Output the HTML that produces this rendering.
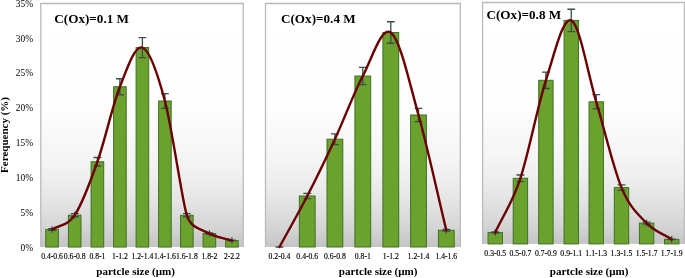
<!DOCTYPE html>
<html><head><meta charset="utf-8"><title>chart</title>
<style>
html,body{margin:0;padding:0;background:#fff;}
body{width:685px;height:278px;overflow:hidden;font-family:"Liberation Serif",serif;}
svg{display:block;will-change:transform;}
text{font-family:"Liberation Serif",serif;fill:#000;}
.b{font-weight:bold;}
</style></head><body>
<svg width="685" height="278" viewBox="0 0 685 278">
<defs>
<linearGradient id="g" x1="0" y1="0" x2="0" y2="1">
<stop offset="0" stop-color="#ffffff"/>
<stop offset="0.42" stop-color="#fefefe"/>
<stop offset="0.63" stop-color="#f5f5f5"/>
<stop offset="0.725" stop-color="#eeeeee"/>
<stop offset="0.82" stop-color="#e3e3e3"/>
<stop offset="0.93" stop-color="#d3d3d3"/>
<stop offset="1" stop-color="#c4c4c4"/>
</linearGradient>
</defs>
<rect width="685" height="278" fill="#fff"/>
<rect x="40.80" y="3.50" width="202.40" height="243.55" fill="url(#g)"/>
<path d="M40.80,247.05 V3.50 H243.20 V247.05" fill="none" stroke="#BABABA" stroke-width="1.3"/>
<rect x="45.75" y="229.45" width="12.60" height="17.60" fill="#6BA22D" stroke="#3F7125" stroke-width="1"/>
<rect x="68.40" y="215.15" width="12.60" height="31.90" fill="#6BA22D" stroke="#3F7125" stroke-width="1"/>
<rect x="91.10" y="161.75" width="12.60" height="85.30" fill="#6BA22D" stroke="#3F7125" stroke-width="1"/>
<rect x="113.60" y="86.75" width="12.60" height="160.30" fill="#6BA22D" stroke="#3F7125" stroke-width="1"/>
<rect x="136.10" y="47.55" width="12.60" height="199.50" fill="#6BA22D" stroke="#3F7125" stroke-width="1"/>
<rect x="158.60" y="101.00" width="12.60" height="146.05" fill="#6BA22D" stroke="#3F7125" stroke-width="1"/>
<rect x="180.55" y="215.30" width="12.60" height="31.75" fill="#6BA22D" stroke="#3F7125" stroke-width="1"/>
<rect x="203.10" y="233.55" width="12.60" height="13.50" fill="#6BA22D" stroke="#3F7125" stroke-width="1"/>
<rect x="225.65" y="240.55" width="12.60" height="6.50" fill="#6BA22D" stroke="#3F7125" stroke-width="1"/>
<path d="M52.05,226.15 V232.75 M48.15,228.57 H55.95 M48.15,230.33 H55.95" fill="none" stroke="#3A4F4A" stroke-width="1.3"/>
<path d="M74.70,211.85 V218.45 M70.80,213.56 H78.60 M70.80,216.75 H78.60" fill="none" stroke="#3A4F4A" stroke-width="1.3"/>
<path d="M97.40,157.49 V166.01 M93.50,157.49 H101.30 M93.50,166.01 H101.30" fill="none" stroke="#3A4F4A" stroke-width="1.3"/>
<path d="M119.90,78.73 V94.77 M116.00,78.73 H123.80 M116.00,94.77 H123.80" fill="none" stroke="#3A4F4A" stroke-width="1.3"/>
<path d="M142.40,37.58 V57.53 M138.50,37.58 H146.30 M138.50,57.53 H146.30" fill="none" stroke="#3A4F4A" stroke-width="1.3"/>
<path d="M164.90,93.70 V108.30 M161.00,93.70 H168.80 M161.00,108.30 H168.80" fill="none" stroke="#3A4F4A" stroke-width="1.3"/>
<path d="M186.85,212.00 V218.60 M182.95,213.71 H190.75 M182.95,216.89 H190.75" fill="none" stroke="#3A4F4A" stroke-width="1.3"/>
<path d="M209.40,230.25 V236.85 M205.50,232.88 H213.30 M205.50,234.23 H213.30" fill="none" stroke="#3A4F4A" stroke-width="1.3"/>
<path d="M231.95,237.25 V243.85 M228.05,240.23 H235.85 M228.05,240.88 H235.85" fill="none" stroke="#3A4F4A" stroke-width="1.3"/>
<path d="M52.05,229.45 C59.60,224.68 67.25,226.28 74.70,215.15 C82.15,204.02 89.87,183.15 97.40,161.75 C104.93,140.35 112.40,105.78 119.90,86.75 C127.40,67.72 134.90,45.18 142.40,47.55 C149.90,49.93 157.49,73.04 164.90,101.00 C172.31,128.96 182.23,201.55 186.85,215.30 C191.47,229.05 201.88,229.34 209.40,233.55 C216.92,237.76 224.43,238.22 231.95,240.55" fill="none" stroke="#6C0000" stroke-width="2.4" stroke-linecap="round" stroke-linejoin="round"/>
<text x="52.05" y="259.10" font-size="7.7" text-anchor="middle" stroke="#000" stroke-width="0.15">0.4-0.6</text>
<text x="74.70" y="259.10" font-size="7.7" text-anchor="middle" stroke="#000" stroke-width="0.15">0.6-0.8</text>
<text x="97.40" y="259.10" font-size="7.7" text-anchor="middle" stroke="#000" stroke-width="0.15">0.8-1</text>
<text x="119.90" y="259.10" font-size="7.7" text-anchor="middle" stroke="#000" stroke-width="0.15">1-1.2</text>
<text x="142.40" y="259.10" font-size="7.7" text-anchor="middle" stroke="#000" stroke-width="0.15">1.2-1.4</text>
<text x="164.90" y="259.10" font-size="7.7" text-anchor="middle" stroke="#000" stroke-width="0.15">1.4-1.6</text>
<text x="186.85" y="259.10" font-size="7.7" text-anchor="middle" stroke="#000" stroke-width="0.15">1.6-1.8</text>
<text x="209.40" y="259.10" font-size="7.7" text-anchor="middle" stroke="#000" stroke-width="0.15">1.8-2</text>
<text x="231.95" y="259.10" font-size="7.7" text-anchor="middle" stroke="#000" stroke-width="0.15">2-2.2</text>
<text class="b" x="54.30" y="23.40" font-size="13.15">C(Ox)=0.1 M</text>
<text class="b" x="96.25" y="274.80" font-size="11.05">partcle size (μm)</text>
<rect x="265.50" y="3.50" width="194.80" height="243.50" fill="url(#g)"/>
<path d="M265.50,247.00 V3.50 H460.30 V247.00" fill="none" stroke="#BABABA" stroke-width="1.3"/>
<rect x="299.35" y="196.00" width="15.80" height="51.00" fill="#6BA22D" stroke="#3F7125" stroke-width="1"/>
<rect x="327.00" y="139.20" width="15.80" height="107.80" fill="#6BA22D" stroke="#3F7125" stroke-width="1"/>
<rect x="354.90" y="76.00" width="15.80" height="171.00" fill="#6BA22D" stroke="#3F7125" stroke-width="1"/>
<rect x="382.90" y="32.50" width="15.80" height="214.50" fill="#6BA22D" stroke="#3F7125" stroke-width="1"/>
<rect x="410.60" y="115.00" width="15.80" height="132.00" fill="#6BA22D" stroke="#3F7125" stroke-width="1"/>
<rect x="438.40" y="230.30" width="15.80" height="16.70" fill="#6BA22D" stroke="#3F7125" stroke-width="1"/>
<path d="M279.44,245.40 V247.00 M275.54,247.00 H283.34 M275.54,247.00 H283.34" fill="none" stroke="#3A4F4A" stroke-width="1.3"/>
<path d="M307.25,192.70 V199.30 M303.35,193.45 H311.15 M303.35,198.55 H311.15" fill="none" stroke="#3A4F4A" stroke-width="1.3"/>
<path d="M334.90,133.81 V144.59 M331.00,133.81 H338.80 M331.00,144.59 H338.80" fill="none" stroke="#3A4F4A" stroke-width="1.3"/>
<path d="M362.80,67.45 V84.55 M358.90,67.45 H366.70 M358.90,84.55 H366.70" fill="none" stroke="#3A4F4A" stroke-width="1.3"/>
<path d="M390.80,21.77 V43.23 M386.90,21.77 H394.70 M386.90,43.23 H394.70" fill="none" stroke="#3A4F4A" stroke-width="1.3"/>
<path d="M418.50,108.40 V121.60 M414.60,108.40 H422.40 M414.60,121.60 H422.40" fill="none" stroke="#3A4F4A" stroke-width="1.3"/>
<path d="M446.30,227.00 V233.60 M442.40,229.47 H450.20 M442.40,231.14 H450.20" fill="none" stroke="#3A4F4A" stroke-width="1.3"/>
<path d="M279.44,247.00 C288.71,230.00 298.01,213.97 307.25,196.00 C316.49,178.03 325.64,159.20 334.90,139.20 C344.16,119.20 353.48,93.78 362.80,76.00 C372.12,58.22 381.52,26.00 390.80,32.50 C400.08,39.00 409.25,82.03 418.50,115.00 C427.75,147.97 437.03,191.87 446.30,230.30" fill="none" stroke="#6C0000" stroke-width="2.4" stroke-linecap="round" stroke-linejoin="round"/>
<text x="279.44" y="259.10" font-size="7.7" text-anchor="middle" stroke="#000" stroke-width="0.15">0.2-0.4</text>
<text x="307.25" y="259.10" font-size="7.7" text-anchor="middle" stroke="#000" stroke-width="0.15">0.4-0.6</text>
<text x="334.90" y="259.10" font-size="7.7" text-anchor="middle" stroke="#000" stroke-width="0.15">0.6-0.8</text>
<text x="362.80" y="259.10" font-size="7.7" text-anchor="middle" stroke="#000" stroke-width="0.15">0.8-1</text>
<text x="390.80" y="259.10" font-size="7.7" text-anchor="middle" stroke="#000" stroke-width="0.15">1-1.2</text>
<text x="418.50" y="259.10" font-size="7.7" text-anchor="middle" stroke="#000" stroke-width="0.15">1.2-1.4</text>
<text x="446.30" y="259.10" font-size="7.7" text-anchor="middle" stroke="#000" stroke-width="0.15">1.4-1.6</text>
<text class="b" x="281.00" y="23.40" font-size="13.15">C(Ox)=0.4 M</text>
<text class="b" x="338.75" y="274.80" font-size="11.05">partcle size (μm)</text>
<rect x="482.60" y="2.50" width="201.80" height="241.40" fill="url(#g)"/>
<path d="M482.60,243.90 V2.50 H684.40 V243.90" fill="none" stroke="#BABABA" stroke-width="1.3"/>
<rect x="488.05" y="232.50" width="14.40" height="11.40" fill="#6BA22D" stroke="#3F7125" stroke-width="1"/>
<rect x="513.20" y="178.30" width="14.40" height="65.60" fill="#6BA22D" stroke="#3F7125" stroke-width="1"/>
<rect x="538.70" y="80.30" width="14.40" height="163.60" fill="#6BA22D" stroke="#3F7125" stroke-width="1"/>
<rect x="564.05" y="20.40" width="14.40" height="223.50" fill="#6BA22D" stroke="#3F7125" stroke-width="1"/>
<rect x="589.05" y="101.80" width="14.40" height="142.10" fill="#6BA22D" stroke="#3F7125" stroke-width="1"/>
<rect x="614.30" y="187.60" width="14.40" height="56.30" fill="#6BA22D" stroke="#3F7125" stroke-width="1"/>
<rect x="639.40" y="223.10" width="14.40" height="20.80" fill="#6BA22D" stroke="#3F7125" stroke-width="1"/>
<rect x="664.50" y="239.40" width="14.40" height="4.50" fill="#6BA22D" stroke="#3F7125" stroke-width="1"/>
<path d="M495.25,229.20 V235.80 M491.35,231.93 H499.15 M491.35,233.07 H499.15" fill="none" stroke="#3A4F4A" stroke-width="1.3"/>
<path d="M520.40,175.00 V181.60 M516.50,175.02 H524.30 M516.50,181.58 H524.30" fill="none" stroke="#3A4F4A" stroke-width="1.3"/>
<path d="M545.90,72.12 V88.48 M542.00,72.12 H549.80 M542.00,88.48 H549.80" fill="none" stroke="#3A4F4A" stroke-width="1.3"/>
<path d="M571.25,9.23 V31.58 M567.35,9.23 H575.15 M567.35,31.58 H575.15" fill="none" stroke="#3A4F4A" stroke-width="1.3"/>
<path d="M596.25,94.70 V108.91 M592.35,94.70 H600.15 M592.35,108.91 H600.15" fill="none" stroke="#3A4F4A" stroke-width="1.3"/>
<path d="M621.50,184.30 V190.90 M617.60,184.79 H625.40 M617.60,190.42 H625.40" fill="none" stroke="#3A4F4A" stroke-width="1.3"/>
<path d="M646.60,219.80 V226.40 M642.70,222.06 H650.50 M642.70,224.14 H650.50" fill="none" stroke="#3A4F4A" stroke-width="1.3"/>
<path d="M671.70,236.10 V242.70 M667.80,239.18 H675.60 M667.80,239.62 H675.60" fill="none" stroke="#3A4F4A" stroke-width="1.3"/>
<path d="M495.25,232.50 C503.63,214.43 511.96,203.67 520.40,178.30 C528.84,152.93 537.42,106.62 545.90,80.30 C554.38,53.98 562.86,16.82 571.25,20.40 C579.64,23.98 587.88,73.93 596.25,101.80 C604.62,129.67 613.17,167.52 621.50,187.60 C629.83,207.68 638.23,214.47 646.60,223.10 C654.97,231.73 663.33,233.97 671.70,239.40" fill="none" stroke="#6C0000" stroke-width="2.4" stroke-linecap="round" stroke-linejoin="round"/>
<text x="495.25" y="256.40" font-size="7.7" text-anchor="middle" stroke="#000" stroke-width="0.15">0.3-0.5</text>
<text x="520.40" y="256.40" font-size="7.7" text-anchor="middle" stroke="#000" stroke-width="0.15">0.5-0.7</text>
<text x="545.90" y="256.40" font-size="7.7" text-anchor="middle" stroke="#000" stroke-width="0.15">0.7-0.9</text>
<text x="571.25" y="256.40" font-size="7.7" text-anchor="middle" stroke="#000" stroke-width="0.15">0.9-1.1</text>
<text x="596.25" y="256.40" font-size="7.7" text-anchor="middle" stroke="#000" stroke-width="0.15">1.1-1.3</text>
<text x="621.50" y="256.40" font-size="7.7" text-anchor="middle" stroke="#000" stroke-width="0.15">1.3-1.5</text>
<text x="646.60" y="256.40" font-size="7.7" text-anchor="middle" stroke="#000" stroke-width="0.15">1.5-1.7</text>
<text x="671.70" y="256.40" font-size="7.7" text-anchor="middle" stroke="#000" stroke-width="0.15">1.7-1.9</text>
<text class="b" x="486.50" y="19.00" font-size="13.15">C(Ox)=0.8 M</text>
<text class="b" x="549.80" y="274.80" font-size="11.05">partcle size (μm)</text>
<text x="33.0" y="250.55" font-size="9.4" text-anchor="end">0%</text>
<text x="33.0" y="215.71" font-size="9.4" text-anchor="end">5%</text>
<text x="33.0" y="180.88" font-size="9.4" text-anchor="end">10%</text>
<text x="33.0" y="146.04" font-size="9.4" text-anchor="end">15%</text>
<text x="33.0" y="111.21" font-size="9.4" text-anchor="end">20%</text>
<text x="33.0" y="76.37" font-size="9.4" text-anchor="end">25%</text>
<text x="33.0" y="41.54" font-size="9.4" text-anchor="end">30%</text>
<text x="33.0" y="6.70" font-size="9.4" text-anchor="end">35%</text>
<text class="b" transform="translate(7.7,172.9) rotate(-90)" font-size="11.0">Ferequency (%)</text>
</svg></body></html>
